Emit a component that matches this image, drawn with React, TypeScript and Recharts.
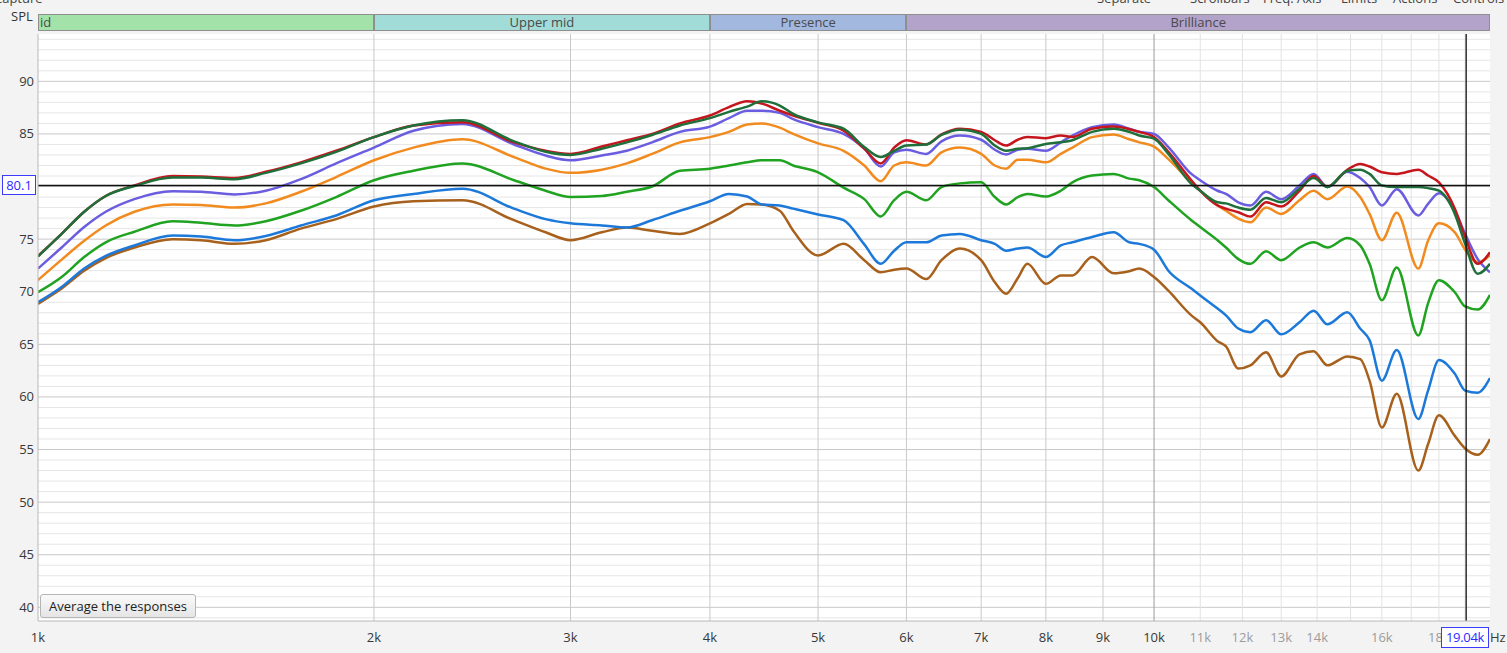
import { LineChart, Line, XAxis, YAxis, CartesianGrid, ReferenceLine } from "recharts";

const FONT = "'Open Sans', 'Noto Sans', sans-serif";

// frequencies in Hz
const freqs = [
  1000, 1050, 1100, 1150, 1220,
  1320, 1400, 1500, 1600, 1720,
  1850, 2000, 2170, 2400, 2670,
  2850, 3000, 3200, 3370, 3550,
  3760, 4000, 4160, 4320, 4450,
  4620, 4750, 5000, 5270, 5500,
  5690, 5850, 6000, 6250, 6450,
  6700, 7000, 7200, 7370, 7550,
  7700, 8000, 8250, 8450, 8800,
  9200, 9500, 9700, 10000, 10300,
  10800, 11000, 11400, 11600, 11900,
  12200, 12600, 13000, 13500, 13900,
  14300, 14900, 15300, 15600, 16000,
  16500, 17250, 17600, 18000, 18600,
  19000, 19500, 20000,
];

// SPL (dB) per trace
const red = [
  73.4, 75.5, 77.6, 79.1, 80.1,
  81.0, 80.95, 80.8, 81.4, 82.3,
  83.4, 84.7, 85.8, 86.1, 84.2,
  83.4, 83.1, 83.8, 84.4, 85.0,
  86.0, 86.75, 87.55, 88.1, 87.9,
  87.2, 86.75, 86.05, 85.3, 83.6,
  82.2, 83.7, 84.4, 84.0, 84.95,
  85.5, 85.2, 84.4, 83.9, 84.45,
  84.7, 84.6, 84.85, 84.7, 85.5,
  85.7, 85.45, 85.2, 84.7, 83.3,
  80.6, 79.6, 78.2, 77.9, 77.55,
  77.15, 78.5, 78.1, 79.6, 81.0,
  79.95, 81.6, 82.15, 81.9, 81.35,
  81.2, 81.6, 81.05, 80.4, 77.9,
  75.2, 72.65, 73.75,
];

const darkGreen = [
  73.35, 75.5, 77.6, 79.1, 80.05,
  80.85, 80.85, 80.7, 81.3, 82.2,
  83.3, 84.7, 85.8, 86.3, 84.3,
  83.3, 83.0, 83.6, 84.2, 84.9,
  85.8, 86.5, 87.1, 87.6, 88.1,
  87.7, 86.9, 86.1, 85.5, 83.75,
  82.8, 83.4, 83.9, 84.0, 84.9,
  85.4, 85.0, 83.9, 83.4, 83.6,
  83.65, 84.05, 84.2, 84.4, 85.2,
  85.5, 85.2, 84.85, 84.55, 83.1,
  80.25, 79.6, 78.5, 78.4, 78.0,
  77.8, 78.9, 78.5, 79.8, 80.8,
  79.95, 81.5, 81.6, 81.2, 80.1,
  79.95, 79.95, 79.85, 79.6, 77.4,
  74.55, 71.7, 72.65,
];

const purple = [
  72.2, 74.2, 76.15, 77.6, 78.8,
  79.55, 79.5, 79.25, 79.6, 80.7,
  82.2, 83.7, 85.3, 85.95, 84.0,
  82.95, 82.5, 82.95, 83.4, 84.2,
  85.2, 85.7, 86.5, 87.2, 87.2,
  87.0, 86.4, 85.65, 85.0, 83.6,
  81.9, 83.25, 83.5, 83.1, 84.3,
  84.85, 84.45, 83.5, 83.05, 83.5,
  83.6, 83.4, 84.2, 84.85, 85.65,
  85.9, 85.5, 85.2, 85.0, 83.75,
  81.2, 80.6, 79.6, 79.3, 78.5,
  78.2, 79.5, 78.8, 80.1, 81.2,
  79.95, 81.4, 80.8, 79.95, 78.2,
  79.75, 77.25, 78.35, 79.35, 77.7,
  75.5, 73.1, 71.85,
];

const orange = [
  71.1, 73.05, 74.85, 76.3, 77.6,
  78.3, 78.25, 78.0, 78.4, 79.5,
  80.9, 82.5, 83.7, 84.5, 82.8,
  81.7, 81.3, 81.6, 82.2, 83.1,
  84.2, 84.7, 85.2, 85.9, 86.0,
  85.6, 85.0, 84.1, 83.4, 82.0,
  80.5, 82.0, 82.3, 82.0, 83.25,
  83.7, 83.1, 82.0, 81.7, 82.55,
  82.55, 82.3, 83.1, 83.7, 84.7,
  84.95, 84.5, 84.2, 83.8, 82.6,
  80.4, 79.6, 78.2, 77.7, 76.95,
  76.6, 78.0, 77.4, 78.7, 79.6,
  78.8, 80.0, 79.0, 77.4, 74.9,
  77.5, 72.2, 74.85, 76.5, 75.65,
  74.0, 72.8, 73.45,
];

const green = [
  69.95, 71.4, 73.3, 74.7, 75.7,
  76.7, 76.55, 76.3, 76.7, 77.7,
  79.0, 80.6, 81.5, 82.2, 80.6,
  79.6, 79.0, 79.1, 79.5, 80.0,
  81.5, 81.7, 82.0, 82.3, 82.5,
  82.5, 82.0, 81.35, 79.9, 78.8,
  77.15, 78.7, 79.5, 78.7, 79.95,
  80.3, 80.4, 79.0, 78.3, 79.0,
  79.3, 79.05, 79.6, 80.4, 81.05,
  81.2, 80.75, 80.6, 79.95, 78.7,
  76.8, 76.15, 74.9, 74.2, 73.1,
  72.65, 73.85, 73.0, 74.2, 74.7,
  74.2, 75.1, 74.4, 72.65, 69.2,
  72.3, 65.85, 68.9, 71.1, 69.95,
  68.6, 68.3, 69.7,
];

const blue = [
  69.0, 70.45, 72.2, 73.4, 74.4,
  75.35, 75.25, 74.9, 75.3, 76.3,
  77.25, 78.7, 79.3, 79.8, 77.9,
  76.9, 76.5, 76.3, 76.1, 76.8,
  77.7, 78.6, 79.3, 79.05, 78.3,
  78.2, 77.9, 77.35, 76.8, 74.5,
  72.65, 73.9, 74.7, 74.7, 75.35,
  75.5, 74.9, 74.55, 73.9, 74.1,
  74.2, 73.3, 74.4, 74.7, 75.2,
  75.65, 74.7, 74.55, 74.0, 72.0,
  70.3, 69.65, 68.4, 67.75, 66.5,
  66.15, 67.3, 65.95, 67.1, 68.2,
  66.9, 68.05, 66.5, 65.4, 61.55,
  64.45, 57.9, 60.6, 63.5, 62.2,
  60.6, 60.4, 61.8,
];

const brown = [
  68.85, 70.3, 72.0, 73.2, 74.2,
  75.0, 74.9, 74.55, 74.9, 76.0,
  76.9, 78.1, 78.6, 78.7, 76.8,
  75.65, 74.9, 75.65, 76.1, 75.8,
  75.5, 76.5, 77.4, 78.35, 78.3,
  77.7, 75.8, 73.45, 74.55, 73.0,
  71.85, 72.1, 72.2, 71.2, 73.0,
  74.1, 73.0, 70.9, 69.8, 71.3,
  72.65, 70.75, 71.55, 71.55, 73.3,
  71.75, 71.95, 72.2, 71.4, 70.1,
  67.75, 67.1, 65.3, 64.8, 62.7,
  63.0, 64.25, 61.95, 64.05, 64.35,
  63.0, 63.85, 63.6, 61.55, 57.1,
  60.3, 53.0, 55.5, 58.25, 56.3,
  55.1, 54.5, 56.0,
];

const xTicks = [1000, 2000, 3000, 4000, 5000, 6000, 7000, 8000, 9000, 10000, 11000, 12000, 13000, 14000, 16000, 18000];
const xMajorGrid = [2000, 3000, 4000, 5000, 6000, 7000, 8000, 9000];
const xMinorGrid = [11000, 12000, 13000, 14000, 15000, 16000, 17000, 18000, 19000];
const yTicks = [40, 45, 50, 55, 60, 65, 70, 75, 80, 85, 90];
const yMinor = [39, 41, 42, 43, 44, 46, 47, 48, 49, 51, 52, 53, 54, 56, 57, 58, 59, 61, 62, 63, 64, 66, 67, 68, 69, 71, 72, 73, 74, 76, 77, 78, 79, 81, 82, 83, 84, 86, 87, 88, 89, 91, 92, 93, 94];

const bands = [
  { name: "id", from: 1000, to: 2000, color: "#a3e3a9", align: "left" },
  { name: "Upper mid", from: 2000, to: 4000, color: "#a2dcd8", align: "center" },
  { name: "Presence", from: 4000, to: 6000, color: "#a3b8de", align: "center" },
  { name: "Brilliance", from: 6000, to: 20000, color: "#b3a2c9", align: "center" },
];

const cursorSpl = 80.1;
const cursorFreq = 19040;

const rows = freqs.map((f, i) => ({
  f,
  red: red[i],
  darkGreen: darkGreen[i],
  purple: purple[i],
  orange: orange[i],
  green: green[i],
  blue: blue[i],
  brown: brown[i],
}));

const series = [
  { key: "brown", color: "#a8611d" },
  { key: "blue", color: "#1c79d9" },
  { key: "green", color: "#20a320" },
  { key: "orange", color: "#f28b1f" },
  { key: "purple", color: "#6b5de0" },
  { key: "red", color: "#c6161d" },
  { key: "darkGreen", color: "#1f6f3b" },
];

const W = 1507;
const H = 653;
const PL = 38;
const PT = 34;
const PR = 1490;
const PB = 621;
const fx = (f: number) => PL + ((PR - PL) * Math.log10(f / 1000)) / Math.log10(20);

const FreqTick = (props: any) => {
  const { x, y, payload } = props;
  const v = payload.value as number;
  return (
    <text x={x} y={y + 21} textAnchor="middle" fontSize={13} fontFamily={FONT} fill={v > 10000 ? "#9c9c9c" : "#383838"}>
      {`${v / 1000}k`}
    </text>
  );
};

const SplTick = (props: any) => {
  const { x, y, payload } = props;
  // the 80 label sits under the cursor readout box
  if (payload.value === 80) return <g />;
  return (
    <text x={x - 4} y={y} dy="0.35em" textAnchor="end" fontSize={13} fontFamily={FONT} fill="#383838">
      {payload.value}
    </text>
  );
};

const menu = [
  { t: "Separate", x: 1097 },
  { t: "Scrollbars", x: 1190 },
  { t: "Freq. Axis", x: 1263 },
  { t: "Limits", x: 1341 },
  { t: "Actions", x: 1393 },
  { t: "Controls", x: 1453 },
];

export default function App() {
  return (
    <div style={{ position: "absolute", left: 0, top: 0, width: W, height: H, background: "#f3f3f3", overflow: "hidden", fontFamily: FONT, fontSize: 13, color: "#333" }}>
      {menu.map((m) => (
        <div key={m.t} style={{ position: "absolute", left: m.x, top: -11, color: "#444" }}>{m.t}</div>
      ))}
      <div style={{ position: "absolute", left: -6, top: -11, color: "#444" }}>Capture</div>
      <div style={{ position: "absolute", left: 11, top: 7, color: "#333" }}>SPL</div>

      {bands.map((b) => (
        <div
          key={b.name}
          style={{
            position: "absolute",
            left: fx(b.from),
            top: 14,
            width: fx(b.to) - fx(b.from),
            height: 17,
            boxSizing: "border-box",
            background: b.color,
            border: "1px solid #8f8f8f",
            color: "#4a4a4a",
            lineHeight: "15px",
            textAlign: b.align as any,
            paddingLeft: b.align === "left" ? 1 : 0,
            overflow: "hidden",
          }}
        >
          {b.name}
        </div>
      ))}

      <div style={{ position: "absolute", left: PL, top: PT, width: PR - PL, height: PB - PT, background: "#fff" }} />

      <div style={{ position: "absolute", left: 0, top: 0 }}>
        <LineChart width={W} height={H} data={rows} margin={{ top: PT, right: W - PR, bottom: 0, left: 0 }}>
          <CartesianGrid horizontalValues={yMinor} vertical={false} stroke="#e6e6e6" />
          <CartesianGrid horizontalValues={yTicks} vertical={false} stroke="#c9c9c9" />
          <CartesianGrid verticalValues={xMinorGrid} horizontal={false} stroke="#e2e2e2" />
          <CartesianGrid verticalValues={xMajorGrid} horizontal={false} stroke="#c9c9c9" />
          <CartesianGrid verticalValues={[10000]} horizontal={false} stroke="#9a9a9a" />
          <XAxis
            dataKey="f"
            type="number"
            scale="log"
            domain={[1000, 20000]}
            allowDataOverflow
            ticks={xTicks}
            interval={0}
            height={H - PB}
            tickSize={0}
            tickMargin={0}
            axisLine={{ stroke: "#b8b8b8" }}
            tick={<FreqTick />}
          />
          <YAxis
            type="number"
            domain={[38.7, 94.5]}
            allowDataOverflow
            ticks={yTicks}
            interval={0}
            width={PL}
            tickSize={0}
            tickMargin={0}
            axisLine={{ stroke: "#b8b8b8" }}
            tick={<SplTick />}
          />
          {series.map((s) => (
            <Line
              key={s.key}
              dataKey={s.key}
              type="monotone"
              stroke={s.color}
              strokeWidth={2.5}
              dot={false}
              activeDot={false}
              isAnimationActive={false}
            />
          ))}
          <ReferenceLine y={cursorSpl} stroke="#111" strokeWidth={1.3} />
          <ReferenceLine x={cursorFreq} stroke="#111" strokeWidth={1.3} />
        </LineChart>
      </div>

      <div style={{ position: "absolute", left: 2, top: 175, width: 34, height: 20, boxSizing: "border-box", border: "1px solid #3b3bff", background: "#fff", color: "#2b2bff", textAlign: "center", lineHeight: "18px" }}>
        {cursorSpl}
      </div>
      <div style={{ position: "absolute", left: 1441, top: 627, width: 48, height: 21, boxSizing: "border-box", border: "1px solid #3b3bff", background: "#fff", color: "#2b2bff", textAlign: "center", lineHeight: "19px", letterSpacing: -0.3 }}>
        {(cursorFreq / 1000).toFixed(2)}k
      </div>
      <div style={{ position: "absolute", left: 1490, top: 628, color: "#383838" }}>Hz</div>

      <div style={{ position: "absolute", left: 40, top: 594, width: 156, height: 24, boxSizing: "border-box", border: "1px solid #b5b5b5", borderRadius: 3, background: "linear-gradient(#fafafa, #e5e5e5)", color: "#222", textAlign: "center", lineHeight: "22px" }}>
        Average the responses
      </div>
    </div>
  );
}
